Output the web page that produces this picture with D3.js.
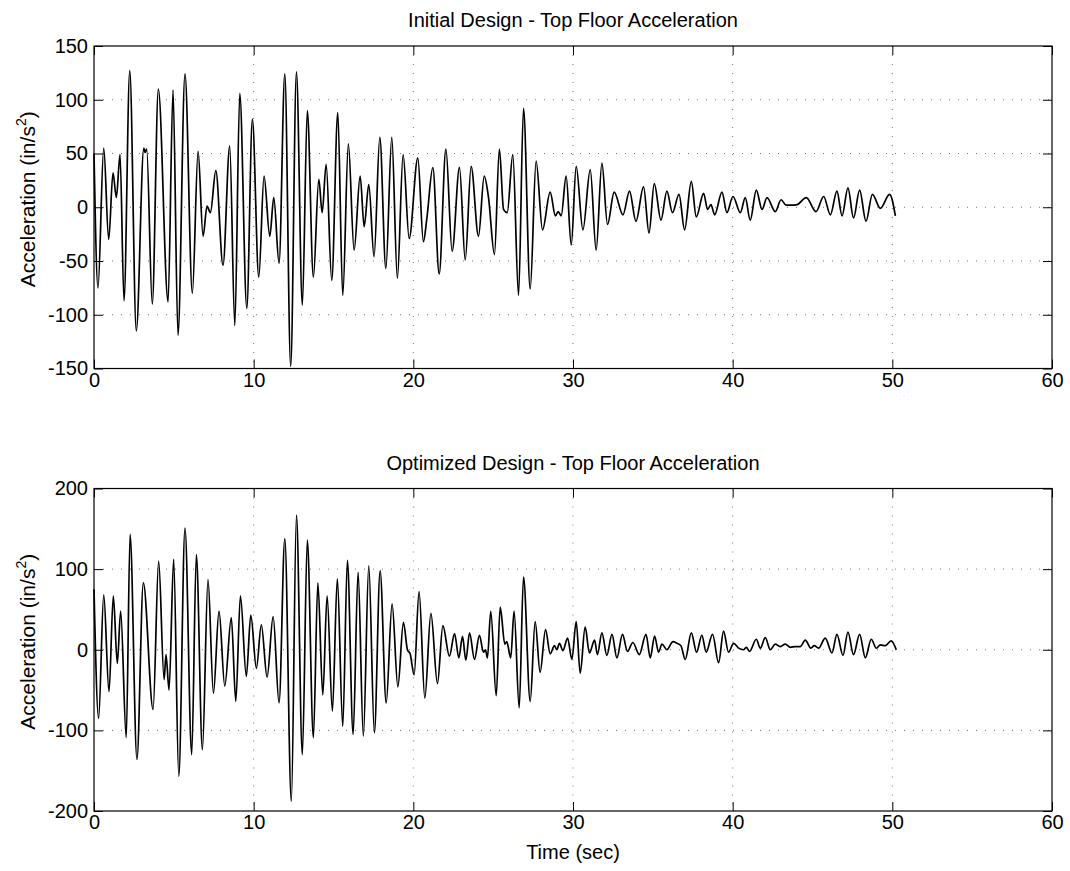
<!DOCTYPE html>
<html><head><meta charset="utf-8">
<script src="https://cdn.jsdelivr.net/npm/d3@7/dist/d3.min.js"></script>
<style>
html,body{margin:0;padding:0;background:#fff;}
svg{display:block;font-family:"Liberation Sans",Arial,Helvetica,sans-serif;}
</style></head>
<body>
<svg id="chart" width="1070" height="871"></svg>
<script>
// ---- data (successive peaks/troughs) ----
const xTicks = [0, 10, 20, 30, 40, 50, 60];
const yTicksInitial = [-150, -100, -50, 0, 50, 100, 150];
const yTicksOptimized = [-200, -100, 0, 100, 200];

const titleInitial = "Initial Design - Top Floor Acceleration";
const titleOptimized = "Optimized Design - Top Floor Acceleration";
const xLabel = "Time (sec)";

const timeInitial = [0,0.25,0.61,0.92,1.19,1.40,1.63,1.88,2.24,2.65,3.12,3.2,3.3,3.65,4.03,4.64,4.95,5.26,5.70,6.16,6.52,6.83,7.08,7.29,7.63,8.08,8.50,8.82,9.13,9.57,9.92,10.32,10.65,11.01,11.26,11.59,11.95,12.32,12.68,13.05,13.36,13.74,14.08,14.29,14.54,14.89,15.27,15.58,15.93,16.29,16.67,16.92,17.21,17.54,17.90,18.28,18.65,19.00,19.36,19.74,20.28,20.63,20.85,21.22,21.62,22.04,22.43,22.89,23.25,23.62,24.08,24.44,24.71,25.08,25.39,25.65,25.88,26.23,26.59,26.90,27.32,27.69,28.09,28.57,28.90,29.07,29.26,29.57,29.89,30.20,30.62,31.08,31.45,31.81,32.16,32.58,33.13,33.54,33.94,34.42,34.76,35.09,35.51,35.88,36.23,36.64,36.99,37.41,37.72,38.18,38.43,38.64,38.87,39.33,39.64,40.02,40.48,40.79,41.10,41.48,41.84,42.15,42.67,43.03,43.34,43.67,44.03,44.61,45.22,45.70,46.12,46.53,46.85,47.22,47.57,47.95,48.35,48.75,49.25,49.83,50.19];
const accelInitial = [50,-75,55,-30,32,9,49,-87,127,-115,55,51,54,-90,110,-88,109,-119,124,-80,52,-27,1,-5,34,-54,57,-110,106,-94,82,-65,29,-27,9,-52,124,-148,126,-91,90,-65,26,-5,40,-68,88,-82,59,-40,29,-18,21,-46,65,-57,65,-66,49,-29,46,-32,-10,37,-62,54,-41,37,-49,38,-27,29,9,-44,54,-2,-5,49,-82,92,-76,43,-21,14,-8,-4,-8,29,-35,38,-21,35,-40,41,-16,14,-7,15,-13,19,-24,22,-12,15,-5,12,-21,24,-9,13,-2,2.5,-7,14,-5,10,-5,9,-12,16,-2,9,-4,7,2,2,2.5,9,-4,10,-7,15,-8,18,-10,16,-13,12,-1,12,-8];

const timeOptimized = [0,0.29,0.61,0.94,1.21,1.46,1.67,2.02,2.26,2.69,3.09,3.70,4.05,4.39,4.51,4.70,4.99,5.31,5.70,6.12,6.41,6.79,7.14,7.48,7.83,8.19,8.60,8.88,9.17,9.54,9.82,10.17,10.48,10.84,11.22,11.59,11.95,12.36,12.68,13.05,13.36,13.74,14.02,14.33,14.60,14.93,15.24,15.58,15.87,16.23,16.54,16.87,17.21,17.56,17.92,18.30,18.67,19.03,19.38,19.63,19.80,20.05,20.36,20.72,21.10,21.51,21.85,22.26,22.58,22.85,23.08,23.29,23.52,23.83,24.14,24.39,24.52,24.64,24.85,25.19,25.44,25.73,25.85,26.10,26.31,26.63,26.90,27.32,27.63,27.94,28.28,28.57,28.84,28.99,29.15,29.37,29.66,29.93,30.20,30.45,30.76,31.03,31.35,31.53,31.81,32.12,32.44,32.75,33.10,33.41,33.75,34.15,34.57,34.84,35.11,35.36,35.57,35.88,36.26,36.51,36.76,37.03,37.41,37.74,38.07,38.34,38.74,39.12,39.43,39.74,40.06,40.37,40.68,40.85,41.06,41.48,41.73,42.04,42.36,42.67,42.98,43.29,43.61,43.92,44.23,44.55,44.90,45.11,45.38,45.80,46.22,46.53,46.91,47.22,47.57,47.95,48.31,48.68,49.00,49.25,49.56,49.92,50.25];
const accelOptimized = [75,-85,68,-52,67,-17,48,-109,143,-136,83,-74,110,-37,-6,-50,112,-157,151,-130,118,-124,87,-54,48,-45,40,-64,67,-33,43,-23,31,-34,41,-66,138,-188,167,-130,136,-109,83,-56,67,-76,88,-95,111,-105,96,-107,104,-103,98,-66,57,-46,34,0,-5,-31,72,-60,45,-42,30,-8,20,-10,16.5,-13,21,-12,18,-3,0,-10,47.5,-57,53,7,10,-10,48,-72,90,-64,35,-28,25,-5,5,0,8,-1,14.5,-12,35,-29,28,-4,12,-6,21,-7,19,-10,19,-2,9,-6,19,-10,17,-3,7,0,10,8,5,-12,21,-3,18,-3,19,-16,23,-3,8,2,0,3,-2,13,2,15,0,7,4,7,3,4,4,12,2,5,2,14.5,-4,19,-7,22,-6,19,-10,13,2,6,5,11,0];

// ---- layout ----
const W = 1070, H = 871;
const left = 94, right = 1052;
const panels = [
  {title: titleInitial, t: timeInitial, a: accelInitial, ticks: yTicksInitial, domain: [-150, 150], top: 46, bottom: 368.5, xlabel: false},
  {title: titleOptimized, t: timeOptimized, a: accelOptimized, ticks: yTicksOptimized, domain: [-200, 200], top: 488.5, bottom: 811, xlabel: true}
];

const svg = d3.select("#chart");
svg.append("rect").attr("width", W).attr("height", H).attr("fill", "#fff");

const x = d3.scaleLinear().domain([0, 60]).range([left, right]);
const tickLen = 9;
const fmt = d => String(d);   // plain hyphen minus, as in the original

panels.forEach(p => {
  const y = d3.scaleLinear().domain(p.domain).range([p.bottom, p.top]);
  const g = svg.append("g");

  // grid (dotted)
  const grid = g.append("g").attr("stroke", "#777").attr("stroke-width", 1).attr("stroke-dasharray", "1,8");
  xTicks.slice(1, -1).forEach(v => {
    grid.append("line").attr("x1", x(v)).attr("x2", x(v)).attr("y1", p.top).attr("y2", p.bottom);
  });
  p.ticks.slice(1, -1).forEach(v => {
    grid.append("line").attr("x1", left).attr("x2", right).attr("y1", y(v)).attr("y2", y(v));
  });

  // data line
  const pts = p.t.map((tv, i) => [tv, p.a[i]]);
  const line = d3.line().x(d => x(d[0])).y(d => y(d[1])).curve(d3.curveMonotoneX);
  g.append("path").datum(pts).attr("d", line).attr("fill", "none")
    .attr("stroke", "#000").attr("stroke-width", 1.7).attr("stroke-linejoin", "round");

  // box
  g.append("rect").attr("x", left).attr("y", p.top).attr("width", right - left).attr("height", p.bottom - p.top)
    .attr("fill", "none").attr("stroke", "#000").attr("stroke-width", 1.2);

  // axes using d3 axis generators (inward ticks)
  const axB = d3.axisBottom(x).tickValues(xTicks).tickSizeInner(-tickLen).tickSizeOuter(0).tickPadding(4).tickFormat(fmt);
  const axT = d3.axisTop(x).tickValues(xTicks).tickSizeInner(-tickLen).tickSizeOuter(0).tickFormat("");
  const axL = d3.axisLeft(y).tickValues(p.ticks).tickSizeInner(-tickLen).tickSizeOuter(0).tickPadding(6).tickFormat(fmt);
  const axR = d3.axisRight(y).tickValues(p.ticks).tickSizeInner(-tickLen).tickSizeOuter(0).tickFormat("");

  [[axB, `translate(0,${p.bottom})`], [axT, `translate(0,${p.top})`], [axL, `translate(${left},0)`], [axR, `translate(${right},0)`]].forEach(([ax, tr]) => {
    const a = g.append("g").attr("transform", tr).call(ax);
    a.select(".domain").remove();
    a.selectAll(".tick line").attr("stroke", "#000").attr("stroke-width", 1);
    a.selectAll(".tick text").attr("fill", "#000").attr("font-size", 20).attr("font-family", "Liberation Sans, Arial, sans-serif");
  });

  // title
  g.append("text").attr("x", (left + right) / 2).attr("y", p.top - 19)
    .attr("text-anchor", "middle").attr("font-size", 20).attr("fill", "#000").text(p.title);

  // y label
  const yl = g.append("text").attr("transform", `translate(35,${(p.top + p.bottom) / 2 - 8}) rotate(-90)`)
    .attr("text-anchor", "middle").attr("font-size", 21).attr("fill", "#000");
  yl.append("tspan").text("Acceleration (in/s");
  yl.append("tspan").attr("font-size", 14).attr("dy", -9).text("2");
  yl.append("tspan").attr("dy", 9).text(")");

  if (p.xlabel) {
    g.append("text").attr("x", (left + right) / 2).attr("y", p.bottom + 48)
      .attr("text-anchor", "middle").attr("font-size", 20).attr("fill", "#000").text(xLabel);
  }
});
</script>
</body></html>
